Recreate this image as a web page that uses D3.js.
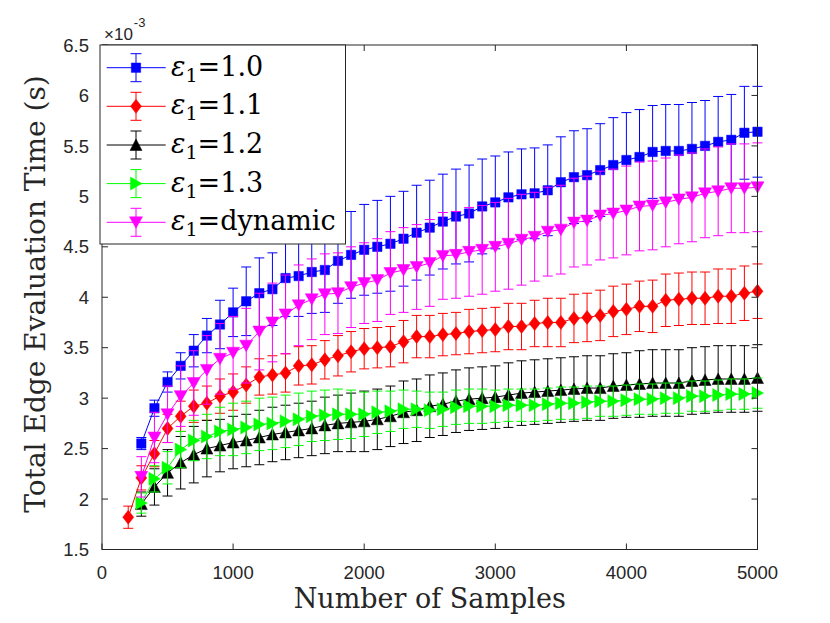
<!DOCTYPE html>
<html>
<head>
<meta charset="utf-8">
<script src="https://cdn.jsdelivr.net/npm/d3@7"></script>
<style>
  body { margin: 0; background: #fff; }
</style>
</head>
<body>
<div id="chart"></div>
<script>
// sample counts (x), red run starts at 200, the others at 300
const samples200 = [200, 300, 400, 500, 600, 700, 800, 900, 1000, 1100, 1200, 1300, 1400, 1500, 1600, 1700, 1800, 1900, 2000, 2100, 2200, 2300, 2400, 2500, 2600, 2700, 2800, 2900, 3000, 3100, 3200, 3300, 3400, 3500, 3600, 3700, 3800, 3900, 4000, 4100, 4200, 4300, 4400, 4500, 4600, 4700, 4800, 4900, 5000];
const samples300 = samples200.slice(1);

// mean times (x1e-3 s) and error half-widths
const eps10 = [2.55, 2.90, 3.16, 3.32, 3.47, 3.62, 3.73, 3.85, 3.96, 4.04, 4.08, 4.19, 4.21, 4.25, 4.27, 4.36, 4.42, 4.47, 4.50, 4.53, 4.58, 4.64, 4.69, 4.75, 4.80, 4.83, 4.90, 4.94, 4.99, 5.02, 5.03, 5.06, 5.14, 5.19, 5.21, 5.26, 5.31, 5.36, 5.39, 5.44, 5.45, 5.45, 5.47, 5.50, 5.54, 5.56, 5.63, 5.64];
const eps10Err = [0.06, 0.08, 0.10, 0.13, 0.16, 0.17, 0.24, 0.24, 0.34, 0.35, 0.36, 0.38, 0.40, 0.41, 0.42, 0.42, 0.43, 0.45, 0.46, 0.47, 0.47, 0.47, 0.47, 0.47, 0.47, 0.48, 0.47, 0.46, 0.45, 0.45, 0.45, 0.45, 0.45, 0.46, 0.46, 0.46, 0.47, 0.47, 0.47, 0.46, 0.46, 0.46, 0.46, 0.45, 0.45, 0.45, 0.46, 0.45];

const eps11 = [1.82, 2.21, 2.45, 2.70, 2.82, 2.92, 2.95, 3.02, 3.06, 3.13, 3.21, 3.23, 3.25, 3.32, 3.33, 3.38, 3.42, 3.46, 3.49, 3.50, 3.51, 3.56, 3.61, 3.61, 3.63, 3.64, 3.66, 3.67, 3.68, 3.71, 3.71, 3.74, 3.75, 3.75, 3.79, 3.80, 3.82, 3.86, 3.88, 3.91, 3.91, 3.97, 3.98, 3.99, 3.99, 4.01, 4.01, 4.04, 4.06];
const eps11Err = [0.11, 0.12, 0.13, 0.14, 0.15, 0.16, 0.17, 0.17, 0.18, 0.18, 0.18, 0.19, 0.19, 0.19, 0.19, 0.19, 0.20, 0.20, 0.20, 0.20, 0.20, 0.21, 0.21, 0.21, 0.21, 0.21, 0.22, 0.22, 0.22, 0.23, 0.23, 0.23, 0.24, 0.24, 0.24, 0.24, 0.25, 0.25, 0.25, 0.25, 0.26, 0.26, 0.26, 0.26, 0.26, 0.27, 0.27, 0.27, 0.27];

const eps12 = [1.95, 2.12, 2.26, 2.36, 2.44, 2.50, 2.53, 2.56, 2.58, 2.61, 2.64, 2.66, 2.68, 2.70, 2.73, 2.75, 2.76, 2.77, 2.79, 2.82, 2.86, 2.88, 2.92, 2.94, 2.97, 2.99, 3.00, 3.01, 3.03, 3.05, 3.06, 3.07, 3.08, 3.09, 3.10, 3.10, 3.12, 3.13, 3.14, 3.15, 3.15, 3.15, 3.17, 3.18, 3.19, 3.19, 3.19, 3.20];
const eps12Err = [0.12, 0.18, 0.23, 0.26, 0.28, 0.28, 0.26, 0.26, 0.26, 0.27, 0.27, 0.27, 0.27, 0.27, 0.28, 0.28, 0.29, 0.30, 0.30, 0.30, 0.31, 0.31, 0.31, 0.31, 0.31, 0.31, 0.31, 0.31, 0.32, 0.32, 0.32, 0.32, 0.32, 0.32, 0.32, 0.32, 0.32, 0.32, 0.33, 0.33, 0.33, 0.33, 0.33, 0.33, 0.33, 0.33, 0.33, 0.33];

const eps13 = [1.96, 2.20, 2.31, 2.49, 2.58, 2.62, 2.67, 2.69, 2.71, 2.74, 2.75, 2.77, 2.79, 2.82, 2.83, 2.84, 2.84, 2.84, 2.86, 2.87, 2.89, 2.89, 2.88, 2.89, 2.91, 2.92, 2.92, 2.92, 2.93, 2.93, 2.93, 2.94, 2.95, 2.95, 2.96, 2.97, 2.97, 2.98, 2.99, 2.99, 3.00, 3.00, 3.02, 3.02, 3.03, 3.04, 3.04, 3.05];
const eps13Err = [0.10, 0.13, 0.16, 0.18, 0.20, 0.22, 0.24, 0.26, 0.26, 0.26, 0.26, 0.26, 0.26, 0.25, 0.25, 0.25, 0.24, 0.22, 0.21, 0.20, 0.19, 0.18, 0.18, 0.17, 0.17, 0.17, 0.17, 0.16, 0.16, 0.16, 0.16, 0.16, 0.16, 0.16, 0.16, 0.15, 0.15, 0.15, 0.15, 0.15, 0.15, 0.15, 0.15, 0.15, 0.15, 0.15, 0.15, 0.15];

const epsDyn = [2.22, 2.61, 2.84, 3.02, 3.15, 3.28, 3.39, 3.45, 3.52, 3.66, 3.75, 3.83, 3.92, 3.98, 4.03, 4.04, 4.10, 4.14, 4.17, 4.24, 4.27, 4.30, 4.34, 4.41, 4.42, 4.45, 4.47, 4.50, 4.53, 4.57, 4.60, 4.65, 4.67, 4.74, 4.76, 4.81, 4.83, 4.86, 4.90, 4.91, 4.94, 4.97, 4.99, 5.03, 5.05, 5.08, 5.08, 5.09];
const epsDynErr = [0.20, 0.25, 0.28, 0.30, 0.32, 0.34, 0.35, 0.36, 0.37, 0.38, 0.39, 0.39, 0.40, 0.40, 0.40, 0.40, 0.40, 0.40, 0.41, 0.41, 0.42, 0.42, 0.43, 0.43, 0.43, 0.44, 0.44, 0.44, 0.45, 0.45, 0.44, 0.44, 0.44, 0.44, 0.44, 0.44, 0.44, 0.44, 0.44, 0.44, 0.44, 0.44, 0.44, 0.44, 0.44, 0.44, 0.44, 0.44];

const legendLabels = ["1.0", "1.1", "1.2", "1.3", "dynamic"];
const xTicks = [0, 1000, 2000, 3000, 4000, 5000];
const yTicks = [1.5, 2, 2.5, 3, 3.5, 4, 4.5, 5, 5.5, 6, 6.5];

const series = [
  { label: legendLabels[0], color: "#0000ff", shape: "square", x: samples300, y: eps10, e: eps10Err },
  { label: legendLabels[1], color: "#ff0000", shape: "diamond", x: samples200, y: eps11, e: eps11Err },
  { label: legendLabels[2], color: "#000000", shape: "up", x: samples300, y: eps12, e: eps12Err },
  { label: legendLabels[3], color: "#00ff00", shape: "right", x: samples300, y: eps13, e: eps13Err },
  { label: legendLabels[4], color: "#ff00ff", shape: "down", x: samples300, y: epsDyn, e: epsDynErr },
];

const width = 830;
const height = 623;
const axisColor = "#262626";
const box = { left: 102, right: 757.5, top: 45, bottom: 549.5 };

const x = d3.scaleLinear().domain([0, 5000]).range([box.left, box.right]);
const y = d3.scaleLinear().domain([1.5, 6.5]).range([box.bottom, box.top]);

function markerPath(shape, cx, cy) {
  const p = d3.path();
  if (shape === "square") {
    p.rect(cx - 4.7, cy - 4.7, 9.4, 9.4);
  } else if (shape === "diamond") {
    p.moveTo(cx, cy - 7); p.lineTo(cx + 5.5, cy); p.lineTo(cx, cy + 7); p.lineTo(cx - 5.5, cy); p.closePath();
  } else if (shape === "up") {
    p.moveTo(cx, cy - 6); p.lineTo(cx + 6, cy + 5.5); p.lineTo(cx - 6, cy + 5.5); p.closePath();
  } else if (shape === "right") {
    p.moveTo(cx + 6, cy); p.lineTo(cx - 5.5, cy - 6.5); p.lineTo(cx - 5.5, cy + 6.5); p.closePath();
  } else if (shape === "down") {
    p.moveTo(cx, cy + 6); p.lineTo(cx + 6.5, cy - 5.5); p.lineTo(cx - 6.5, cy - 5.5); p.closePath();
  }
  return p.toString();
}

const svg = d3
  .select("#chart")
  .append("svg")
  .attr("width", width)
  .attr("height", height)
  .style("display", "block")
  .style("background", "#fff");

// data, one errorbar object per run, in legend order
const capHalf = 5;
for (const s of series) {
  const pts = s.x.map((n, i) => ({ n: n, v: s.y[i], e: s.e[i] }));
  const g = svg.append("g");

  g.append("g")
    .attr("stroke", s.color)
    .attr("stroke-width", 1)
    .selectAll("path")
    .data(pts)
    .join("path")
    .attr("fill", "none")
    .attr("d", (d) => {
      const px = x(d.n), top = y(d.v + d.e), bot = y(d.v - d.e);
      return `M${px},${top}V${bot}M${px - capHalf},${top}H${px + capHalf}M${px - capHalf},${bot}H${px + capHalf}`;
    });

  g.append("path")
    .datum(pts)
    .attr("fill", "none")
    .attr("stroke", s.color)
    .attr("stroke-width", 1)
    .attr("d", d3.line().x((d) => x(d.n)).y((d) => y(d.v)));

  g.append("g")
    .selectAll("path")
    .data(pts)
    .join("path")
    .attr("fill", s.color)
    .attr("stroke", s.color)
    .attr("stroke-width", 0.5)
    .attr("d", (d) => markerPath(s.shape, x(d.n), y(d.v)));
}

// axes box with inward ticks on all four sides
const axes = svg.append("g").attr("stroke", axisColor).attr("fill", "none");
axes.append("rect")
  .attr("x", box.left)
  .attr("y", box.top)
  .attr("width", box.right - box.left)
  .attr("height", box.bottom - box.top)
  .attr("stroke-width", 1);

const tickLen = 6;
axes.selectAll(".xt")
  .data(xTicks)
  .join("path")
  .attr("d", (d) => `M${x(d)},${box.bottom}v${-tickLen}M${x(d)},${box.top}v${tickLen}`);
axes.selectAll(".yt")
  .data(yTicks)
  .join("path")
  .attr("d", (d) => `M${box.left},${y(d)}h${tickLen}M${box.right},${y(d)}h${-tickLen}`);

const tickFont = "'Liberation Sans', Arial, sans-serif";
svg.append("g")
  .selectAll("text")
  .data(xTicks)
  .join("text")
  .attr("x", (d) => x(d))
  .attr("y", 579)
  .attr("text-anchor", "middle")
  .attr("font-family", tickFont)
  .attr("font-size", 18.5)
  .attr("fill", axisColor)
  .text((d) => d);

svg.append("g")
  .selectAll("text")
  .data(yTicks)
  .join("text")
  .attr("x", 89)
  .attr("y", (d) => y(d))
  .attr("dy", "0.36em")
  .attr("text-anchor", "end")
  .attr("font-family", tickFont)
  .attr("font-size", 18.5)
  .attr("fill", axisColor)
  .text((d) => d);

// exponent label above the axis
const expo = svg.append("text")
  .attr("x", 104)
  .attr("y", 40)
  .attr("font-family", tickFont)
  .attr("font-size", 17)
  .attr("fill", axisColor);
expo.append("tspan").text("\u00d710");
expo.append("tspan").attr("dy", -13).attr("dx", 1).attr("font-size", 13).text("-3");

const serif = "'DejaVu Serif', serif";
svg.append("text")
  .attr("x", (box.left + box.right) / 2)
  .attr("y", 608)
  .attr("text-anchor", "middle")
  .attr("font-family", serif)
  .attr("font-size", 27)
  .attr("fill", axisColor)
  .text("Number of Samples");

svg.append("text")
  .attr("transform", `translate(45,294) rotate(-90)`)
  .attr("text-anchor", "middle")
  .attr("font-family", serif)
  .attr("font-size", 28)
  .attr("fill", axisColor)
  .text("Total Edge Evaluation Time (s)");

// legend
const legend = svg.append("g");
legend.append("rect")
  .attr("x", 100)
  .attr("y", 45)
  .attr("width", 245.5)
  .attr("height", 199)
  .attr("fill", "#fff")
  .attr("stroke", axisColor)
  .attr("stroke-width", 1);

const rowY = [67.7, 106.3, 145, 183.6, 222.3];
series.forEach((s, i) => {
  const cy = rowY[i];
  const row = legend.append("g");
  row.append("path")
    .attr("fill", "none")
    .attr("stroke", s.color)
    .attr("d", `M106.7,${cy}H165.7M136,${cy - 14}V${cy + 14}M130.5,${cy - 14}H141.5M130.5,${cy + 14}H141.5`);
  row.append("path")
    .attr("fill", s.color)
    .attr("stroke", s.color)
    .attr("stroke-width", 0.5)
    .attr("d", markerPath(s.shape, 136, cy));
  const t = row.append("text")
    .attr("x", 171)
    .attr("y", cy + 8)
    .attr("font-family", serif)
    .attr("font-size", 27)
    .attr("fill", "#000");
  t.append("tspan").attr("font-style", "italic").text("\u03b5");
  t.append("tspan").attr("font-size", 19).attr("dy", 6).text("1");
  t.append("tspan").attr("dy", -6).text("=" + s.label);
});
</script>
</body>
</html>
